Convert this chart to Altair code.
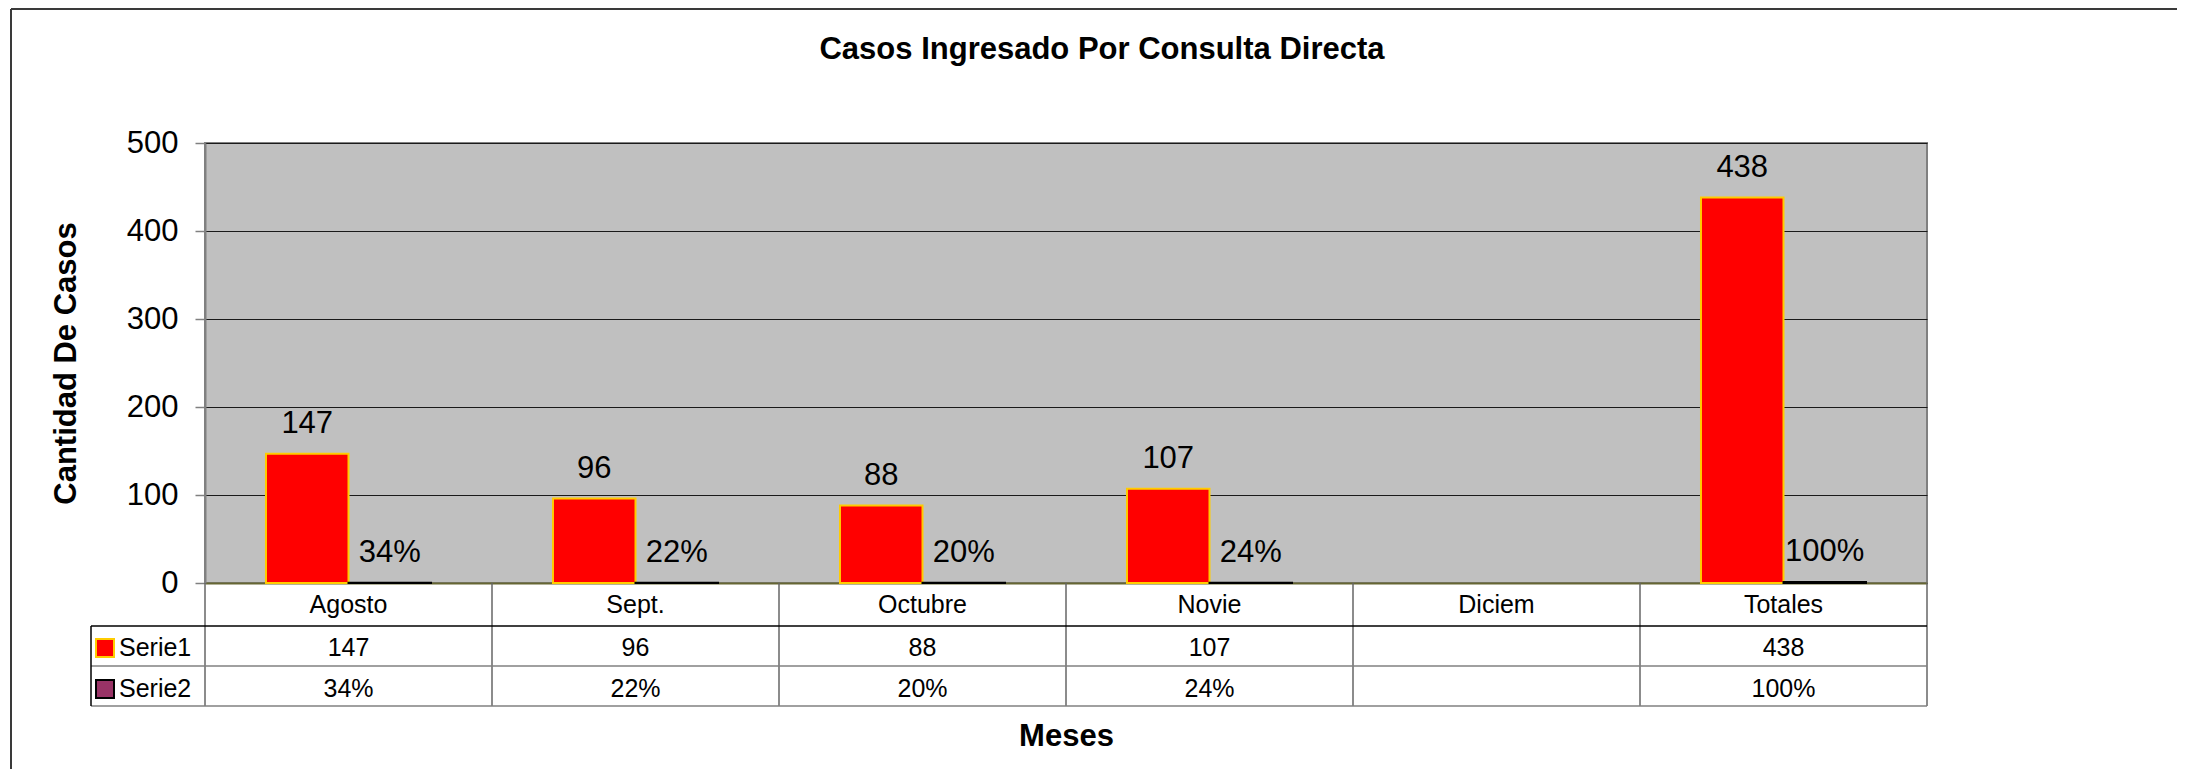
import altair as alt
import pandas as pd

# ---- data ----
months = ["Agosto", "Sept.", "Octubre", "Novie", "Diciem", "Totales"]
serie1 = [147, 96, 88, 107, None, 438]
serie2 = [0.34, 0.22, 0.20, 0.24, None, 1.00]
series_names = ["Serie1", "Serie2"]
series_fill = ["#FF0000", "#993366"]
series_stroke = ["#FFCC00", "#000000"]
y_ticks = [0, 100, 200, 300, 400, 500]
title_text = "Casos Ingresado Por Consulta Directa"

FONT = "Liberation Sans"
W, H = 1722, 440

rows = []
for m, a, b in zip(months, serie1, serie2):
    if a is not None:
        rows.append({"month": m, "series": "Serie1", "value": a, "label": f"{a}"})
    if b is not None:
        rows.append({"month": m, "series": "Serie2", "value": b, "label": f"{round(b*100)}%"})
df = pd.DataFrame(rows)
df_months = pd.DataFrame({"month": months})

x_enc = alt.X(
    "month:N", sort=months,
    scale=alt.Scale(domain=months, paddingInner=0, paddingOuter=0),
    axis=alt.Axis(
        title="Meses", titleFont=FONT, titleFontSize=31, titleFontWeight="bold",
        titleColor="black", titleX=W / 2, titleY=162, titleBaseline="alphabetic",
        titleAlign="center",
        labelAngle=0, labelFont=FONT, labelFontSize=25, labelColor="black",
        labelPadding=29, labelBaseline="alphabetic",
        ticks=False, tickSize=0, domain=True, domainColor="#666633", domainWidth=2,
        grid=False,
    ),
)
xoff_enc = alt.XOffset(
    "series:N",
    scale=alt.Scale(domain=series_names, paddingInner=0, paddingOuter=0.739),
)
y_enc = alt.Y(
    "value:Q",
    scale=alt.Scale(domain=[0, 500], nice=False),
    axis=alt.Axis(
        values=y_ticks, title="Cantidad De Casos", titleFont=FONT, titleFontSize=31,
        titleFontWeight="bold", titleColor="black", titleAngle=270, titleX=-130,
        titleY=H / 2, titleBaseline="alphabetic", titleAlign="center",
        labelFont=FONT, labelFontSize=31, labelColor="black", labelPadding=17,
        tickSize=10, tickColor="#808080", tickWidth=1.5,
        domainColor="#808080", domainWidth=2,
        grid=True, gridColor="#1a1a1a", gridWidth=1,
    ),
)
color_enc = alt.Color("series:N", scale=alt.Scale(domain=series_names, range=series_fill), legend=None)
stroke_enc = alt.Stroke("series:N", scale=alt.Scale(domain=series_names, range=series_stroke), legend=None)

base = alt.Chart(df)

bars = base.mark_bar(strokeWidth=2).encode(
    x=x_enc, xOffset=xoff_enc, y=y_enc, color=color_enc, stroke=stroke_enc
)

bar_labels = base.mark_text(
    dy=-21, baseline="alphabetic", font=FONT, fontSize=31, color="black"
).encode(x=alt.X("month:N", sort=months), xOffset="series:N", y="value:Q", text="label:N")

# ---- data table under the chart ----
row_y = {"Serie1": 513, "Serie2": 554}
sw_y = {"Serie1": 505, "Serie2": 546}

table_layers = []
for s in series_names:
    sub = base.transform_filter(alt.datum.series == s)
    table_layers.append(
        sub.mark_text(baseline="alphabetic", font=FONT, fontSize=25, color="black").encode(
            x=alt.X("month:N", sort=months), y=alt.value(row_y[s]), text="label:N"
        )
    )
    leg = alt.Chart(pd.DataFrame({"series": [s]}))
    table_layers.append(
        leg.mark_square(size=324, strokeWidth=2, opacity=1).encode(
            x=alt.value(-100), y=alt.value(sw_y[s]), color=color_enc, stroke=stroke_enc
        )
    )
    table_layers.append(
        leg.mark_text(align="left", baseline="alphabetic", font=FONT, fontSize=25, color="black").encode(
            x=alt.value(-86), y=alt.value(row_y[s]), text="series:N"
        )
    )

col_rules = alt.Chart(df_months).mark_rule(color="#666666", strokeWidth=1.5).encode(
    x=alt.X("month:N", sort=months, bandPosition=0), y=alt.value(H), y2=alt.value(563)
)
line_df = pd.DataFrame({"k": [1]})
right_rule = alt.Chart(line_df).mark_rule(color="#666666", strokeWidth=1.5).encode(
    x=alt.value(W), y=alt.value(H), y2=alt.value(563)
)
hline1 = alt.Chart(line_df).mark_rule(color="#000000", strokeWidth=1.5).encode(
    x=alt.value(-114), x2=alt.value(W), y=alt.value(483)
)
hline2 = alt.Chart(line_df).mark_rule(color="#808080", strokeWidth=1.5).encode(
    x=alt.value(-114), x2=alt.value(W), y=alt.value(523)
)
hline3 = alt.Chart(line_df).mark_rule(color="#808080", strokeWidth=1.5).encode(
    x=alt.value(-114), x2=alt.value(W), y=alt.value(563)
)
vleft = alt.Chart(line_df).mark_rule(color="#000000", strokeWidth=1.5).encode(
    x=alt.value(-114), y=alt.value(483), y2=alt.value(563)
)

# ---- title and outer frame ----
title = alt.Chart(pd.DataFrame({"t": [title_text]})).mark_text(
    align="center", baseline="alphabetic", font=FONT, fontSize=31, fontWeight="bold", color="black"
).encode(x=alt.value(897), y=alt.value(-84), text="t:N")

frame_top = alt.Chart(line_df).mark_rule(color="#3a3a3a", strokeWidth=2).encode(
    x=alt.value(-194), x2=alt.value(2000), y=alt.value(-134)
)
frame_left = alt.Chart(line_df).mark_rule(color="#3a3a3a", strokeWidth=2).encode(
    x=alt.value(-194), y=alt.value(-134), y2=alt.value(700)
)

chart = alt.layer(
    bars, bar_labels, col_rules, right_rule, hline1, hline2, hline3, vleft,
    *table_layers, title, frame_top, frame_left,
).properties(
    width=W, height=H,
    autosize=alt.AutoSizeParams(type="none"),
    padding={"left": 197, "top": 135, "right": 250, "bottom": 186},
    background="white",
).configure(
    font=FONT,
    view=alt.ViewConfig(fill="#C0C0C0", stroke="#808080", strokeWidth=2),
)

chart.save("out.html", embed_options={"renderer": "svg", "actions": False})
